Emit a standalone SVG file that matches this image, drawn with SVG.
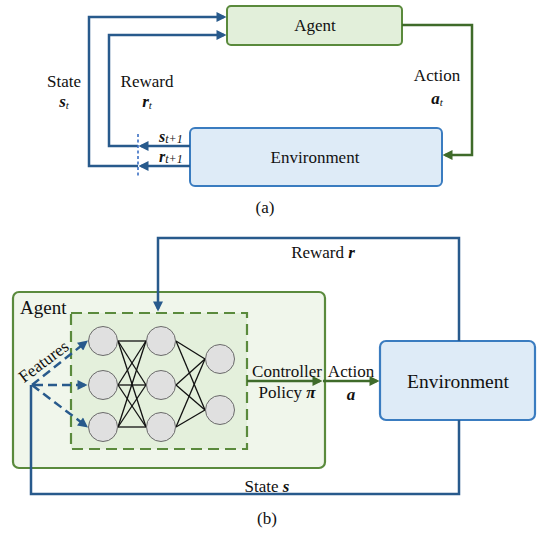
<svg xmlns="http://www.w3.org/2000/svg" width="544" height="536" viewBox="0 0 544 536">
<defs>
<marker id="ab" viewBox="0 0 10 10" refX="7.5" refY="5" markerWidth="12" markerHeight="10" markerUnits="userSpaceOnUse" orient="auto"><path d="M0,0 L10,5 L0,10 z" fill="#285a8c"/></marker>
<marker id="ag" viewBox="0 0 10 10" refX="7.5" refY="5" markerWidth="12" markerHeight="10" markerUnits="userSpaceOnUse" orient="auto"><path d="M0,0 L10,5 L0,10 z" fill="#3f6b2a"/></marker>
</defs>
<g id="agentA">
<rect x="227" y="6" width="175" height="39" rx="4" fill="#e2efda" stroke="#5a8a3c" stroke-width="2"/>
<text x="315" y="31" font-size="17" fill="#111" text-anchor="middle" font-family="Liberation Serif">Agent</text>
</g>
<g id="envA">
<rect x="190" y="128" width="252" height="58" rx="5" fill="#deebf7" stroke="#3a7cc0" stroke-width="2"/>
<text x="315" y="163" font-size="17" fill="#111" text-anchor="middle" font-family="Liberation Serif">Environment</text>
</g>
<g id="connectorsA" fill="none" stroke-width="2.5">
<path stroke="#3f6b2a" d="M402,25 H472 V155 H445" marker-end="url(#ag)"/>
<g stroke="#285a8c">
<path d="M190,146 H141" marker-end="url(#ab)"/>
<path d="M190,166 H141" marker-end="url(#ab)"/>
<path d="M138,146 H109 V35 H224" marker-end="url(#ab)"/>
<path d="M138,166 H89 V17 H224" marker-end="url(#ab)"/>
</g>
<line x1="138" y1="134" x2="138" y2="177" stroke="#3a6fc4" stroke-width="1.6" stroke-dasharray="3,2.5"/>
</g>
<g id="labelsA" fill="#111">
<text x="437" y="81" font-size="17" text-anchor="middle" font-family="Liberation Serif">Action</text>
<text x="437" y="104" font-size="17" text-anchor="middle" font-family="Liberation Serif"><tspan font-weight="bold" font-style="italic">a</tspan><tspan font-style="italic" font-size="11" dy="2">t</tspan></text>
<text x="64" y="87" font-size="17" text-anchor="middle" font-family="Liberation Serif">State</text>
<text x="64" y="107" font-size="17" text-anchor="middle" font-family="Liberation Serif"><tspan font-weight="bold" font-style="italic">s</tspan><tspan font-style="italic" font-size="11" dy="2">t</tspan></text>
<text x="147" y="87" font-size="17" text-anchor="middle" font-family="Liberation Serif">Reward</text>
<text x="147" y="107" font-size="17" text-anchor="middle" font-family="Liberation Serif"><tspan font-weight="bold" font-style="italic">r</tspan><tspan font-style="italic" font-size="11" dy="2">t</tspan></text>
<text x="159" y="142" font-size="16" font-family="Liberation Serif"><tspan font-weight="bold" font-style="italic">s</tspan><tspan font-style="italic" font-size="12" dy="1">t+1</tspan></text>
<text x="159" y="162" font-size="16" font-family="Liberation Serif"><tspan font-weight="bold" font-style="italic">r</tspan><tspan font-style="italic" font-size="12" dy="1">t+1</tspan></text>
<text x="265" y="213" font-size="17" text-anchor="middle" font-family="Liberation Serif">(a)</text>
</g>
<g id="agentB">
<rect x="13" y="292" width="312" height="176" rx="6" fill="#f0f6eb" stroke="#5a8a3c" stroke-width="2.2"/>
<text x="20" y="314" font-size="19" fill="#111" font-family="Liberation Serif">Agent</text>
</g>
<g id="policyNet">
<rect x="71" y="313" width="176" height="136" fill="#e4f0dc" stroke="#5a8a3c" stroke-width="2.2" stroke-dasharray="11,6"/>
<g stroke="#111" stroke-width="1.3">
<line x1="118" y1="341" x2="146" y2="341"/><line x1="118" y1="341" x2="146" y2="385"/><line x1="118" y1="341" x2="146" y2="427"/>
<line x1="118" y1="385" x2="146" y2="341"/><line x1="118" y1="385" x2="146" y2="385"/><line x1="118" y1="385" x2="146" y2="427"/>
<line x1="118" y1="427" x2="146" y2="341"/><line x1="118" y1="427" x2="146" y2="385"/><line x1="118" y1="427" x2="146" y2="427"/>
<line x1="176" y1="341" x2="205" y2="359"/><line x1="176" y1="341" x2="205" y2="410"/>
<line x1="176" y1="385" x2="205" y2="359"/><line x1="176" y1="385" x2="205" y2="410"/>
<line x1="176" y1="427" x2="205" y2="359"/><line x1="176" y1="427" x2="205" y2="410"/>
</g>
<g fill="#e0e0e0" stroke="#6a6a6a" stroke-width="1">
<circle cx="103" cy="341" r="14.5"/><circle cx="103" cy="385" r="14.5"/><circle cx="103" cy="427" r="14.5"/>
<circle cx="161" cy="341" r="14.5"/><circle cx="161" cy="385" r="14.5"/><circle cx="161" cy="427" r="14.5"/>
<circle cx="220" cy="359" r="14.5"/><circle cx="220" cy="410" r="14.5"/>
</g>
</g>
<g id="envB">
<rect x="380" y="341" width="155" height="79" rx="6" fill="#deebf7" stroke="#3a7cc0" stroke-width="2.2"/>
<text x="458" y="388" font-size="19.5" fill="#111" text-anchor="middle" font-family="Liberation Serif">Environment</text>
</g>
<g id="connectorsB" fill="none" stroke-width="2.5">
<g stroke="#285a8c">
<path d="M459,341 V238 H158 V309" marker-end="url(#ab)"/>
<path d="M459,420 V494 H31 V385"/>
<g stroke-dasharray="9,5">
<path d="M32,385 L86,342" marker-end="url(#ab)"/>
<path d="M34,385 H85" marker-end="url(#ab)"/>
<path d="M32,385 L86,426" marker-end="url(#ab)"/>
</g>
</g>
<g stroke="#3f6b2a">
<path d="M247,381 H320" marker-end="url(#ag)"/>
<path d="M323,381 H377" marker-end="url(#ag)"/>
</g>
</g>
<g id="labelsB" fill="#111">
<text x="323" y="258" font-size="17" text-anchor="middle" font-family="Liberation Serif">Reward <tspan font-weight="bold" font-style="italic">r</tspan></text>
<text x="47" y="366" font-size="17" text-anchor="middle" font-family="Liberation Serif" transform="rotate(-37 47 366)">Features</text>
<text x="287" y="377" font-size="17" text-anchor="middle" font-family="Liberation Serif">Controller</text>
<text x="287" y="398" font-size="17" text-anchor="middle" font-family="Liberation Serif">Policy <tspan font-weight="bold" font-style="italic">&#960;</tspan></text>
<text x="351" y="377" font-size="17" text-anchor="middle" font-family="Liberation Serif">Action</text>
<text x="351" y="400" font-size="17" text-anchor="middle" font-family="Liberation Serif"><tspan font-weight="bold" font-style="italic">a</tspan></text>
<text x="267" y="492" font-size="17" text-anchor="middle" font-family="Liberation Serif">State <tspan font-weight="bold" font-style="italic">s</tspan></text>
<text x="267" y="524" font-size="17" text-anchor="middle" font-family="Liberation Serif">(b)</text>
</g>
</svg>
